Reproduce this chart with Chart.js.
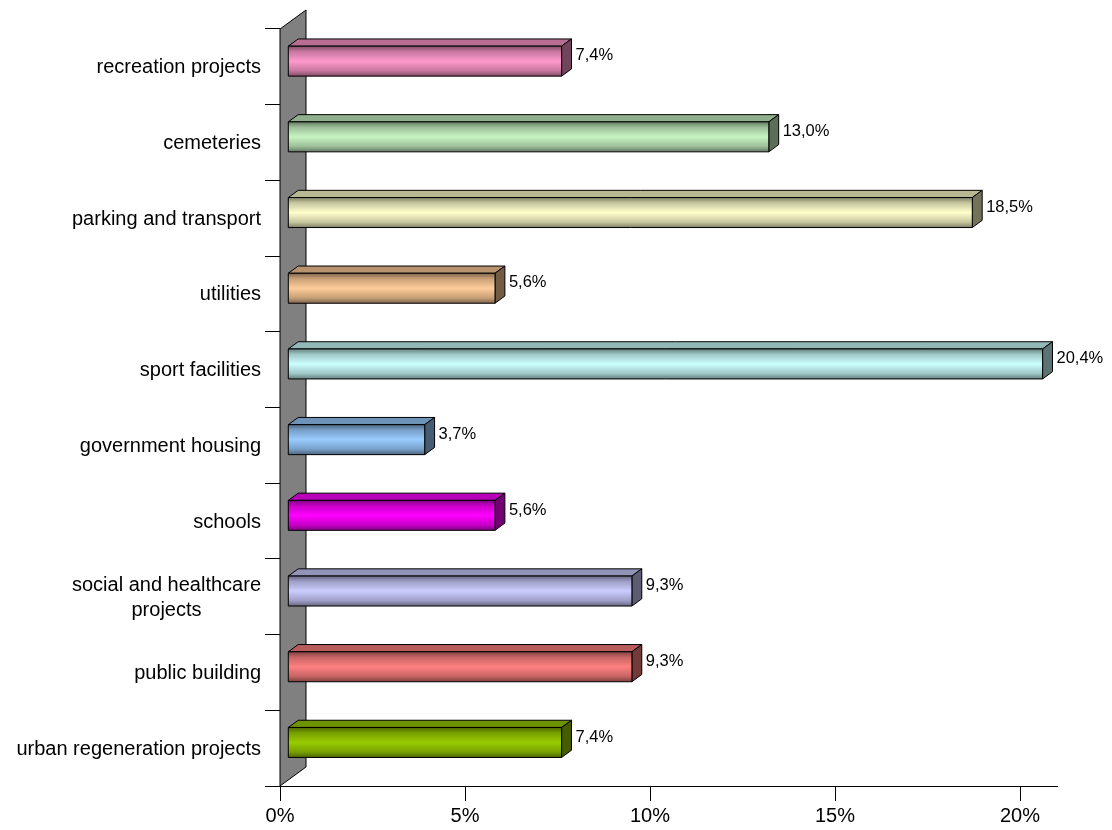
<!DOCTYPE html>
<html>
<head>
<meta charset="utf-8">
<script src="https://cdn.jsdelivr.net/npm/chart.js@4.4.1/dist/chart.umd.min.js"></script>
<style>
    body { margin: 0; background: #fff; }
</style>
</head>
<body>
<canvas id="barChart" width="1112" height="830"></canvas>
<script>
// Share of projects per category (top to bottom)
const categories = [
    'recreation projects',
    'cemeteries',
    'parking and transport',
    'utilities',
    'sport facilities',
    'government housing',
    'schools',
    ['social and healthcare', 'projects'],
    'public building',
    'urban regeneration projects'
];
const shares = [7.4, 13.0, 18.5, 5.6, 20.4, 3.7, 5.6, 9.3, 9.3, 7.4];
const barColors = ['#FF99CC', '#C8F4C4', '#FFFFCC', '#FFCC99', '#CCFFFF', '#99CCFF', '#FF00FF', '#CCCCFF', '#FF8080', '#99CC00'];
const xTicks = [0, 5, 10, 15, 20];

const FONT = "'Liberation Sans', Arial, sans-serif";
// depth of the back wall in pixels, bars sit between FRONT and BACK
const WALL = { dx: 26, dy: -19 };
const FRONT = 0.3, BACK = 0.68;

function shade(hex, f) {
    const n = parseInt(hex.slice(1), 16);
    const r = Math.round(((n >> 16) & 255) * f);
    const g = Math.round(((n >> 8) & 255) * f);
    const b = Math.round((n & 255) * f);
    return 'rgb(' + r + ',' + g + ',' + b + ')';
}

function poly(ctx, pts, fill) {
    ctx.beginPath();
    ctx.moveTo(pts[0][0], pts[0][1]);
    for (let i = 1; i < pts.length; i++) ctx.lineTo(pts[i][0], pts[i][1]);
    ctx.closePath();
    ctx.fillStyle = fill;
    ctx.fill();
    ctx.stroke();
}

const bars3d = {
    id: 'bars3d',
    beforeDatasetsDraw(chart) {
        // grey side wall
        const { ctx, chartArea: a } = chart;
        ctx.save();
        ctx.strokeStyle = '#000';
        ctx.lineWidth = 1;
        poly(ctx, [
            [a.left, a.bottom],
            [a.left, a.top],
            [a.left + WALL.dx, a.top + WALL.dy],
            [a.left + WALL.dx, a.bottom + WALL.dy]
        ], '#808080');
        ctx.restore();
    },
    beforeDatasetDraw(chart, args) {
        const ctx = chart.ctx;
        const fdx = WALL.dx * FRONT, fdy = WALL.dy * FRONT;
        const bdx = WALL.dx * (BACK - FRONT), bdy = WALL.dy * (BACK - FRONT);
        ctx.save();
        ctx.strokeStyle = '#000';
        ctx.lineWidth = 1;
        args.meta.data.forEach((el, i) => {
            const base = barColors[i];
            const x0 = el.base + fdx, x1 = el.x + fdx;
            const y0 = el.y - el.height / 2 + fdy, y1 = y0 + el.height;

            // top face
            poly(ctx, [[x0, y0], [x0 + bdx, y0 + bdy], [x1 + bdx, y0 + bdy], [x1, y0]], shade(base, 0.72));
            // end face
            poly(ctx, [[x1, y0], [x1 + bdx, y0 + bdy], [x1 + bdx, y1 + bdy], [x1, y1]], shade(base, 0.45));
            // front face with rounded shading
            const g = ctx.createLinearGradient(0, y0, 0, y1);
            g.addColorStop(0, shade(base, 0.5));
            g.addColorStop(0.18, shade(base, 0.78));
            g.addColorStop(0.5, base);
            g.addColorStop(0.82, shade(base, 0.78));
            g.addColorStop(1, shade(base, 0.5));
            poly(ctx, [[x0, y0], [x1, y0], [x1, y1], [x0, y1]], g);
        });
        ctx.restore();
        return false;
    },
    afterDatasetsDraw(chart) {
        // value labels next to the bar ends
        const ctx = chart.ctx;
        const meta = chart.getDatasetMeta(0);
        ctx.save();
        ctx.font = '16.5px ' + FONT;
        ctx.fillStyle = '#000';
        ctx.textAlign = 'left';
        ctx.textBaseline = 'middle';
        meta.data.forEach((el, i) => {
            const txt = shares[i].toFixed(1).replace('.', ',') + '%';
            ctx.fillText(txt, el.x + WALL.dx * BACK + 4, el.y - 11);
        });
        ctx.restore();
    },
    afterDraw(chart) {
        // category labels, multi-line ones centred on themselves
        const ctx = chart.ctx;
        const yScale = chart.scales.y;
        const right = 261, lh = 25;
        ctx.save();
        ctx.font = '20px ' + FONT;
        ctx.fillStyle = '#000';
        ctx.textAlign = 'center';
        ctx.textBaseline = 'middle';
        categories.forEach((lab, i) => {
            const lines = Array.isArray(lab) ? lab : [lab];
            const w = Math.max(...lines.map(l => ctx.measureText(l).width));
            const cy = yScale.getPixelForValue(i) + 1;
            lines.forEach((l, k) => {
                ctx.fillText(l, right - w / 2, cy - (lines.length - 1) * lh / 2 + k * lh);
            });
        });
        ctx.restore();
    }
};

new Chart(document.getElementById('barChart').getContext('2d'), {
    type: 'bar',
    data: {
        labels: categories,
        datasets: [{
            data: shares,
            backgroundColor: barColors,
            barPercentage: 0.396,
            categoryPercentage: 1
        }]
    },
    options: {
        indexAxis: 'y',
        responsive: false,
        animation: false,
        layout: { padding: { top: 29, right: 55, left: 0, bottom: 0 } },
        plugins: {
            legend: { display: false },
            tooltip: { enabled: false }
        },
        scales: {
            x: {
                type: 'linear',
                position: 'bottom',
                min: 0,
                max: 21,
                afterBuildTicks(s) { s.ticks = xTicks.map(v => ({ value: v })); },
                afterFit(s) { s.height = 44; },
                ticks: {
                    callback: v => v + '%',
                    color: '#000',
                    font: { family: FONT, size: 20 },
                    padding: 3,
                    maxRotation: 0
                },
                grid: { drawOnChartArea: false, tickLength: 15, color: '#000' },
                border: { color: '#000' }
            },
            y: {
                type: 'category',
                afterFit(s) { s.width = 280; },
                ticks: { display: false },
                grid: { drawOnChartArea: false, tickLength: 15, color: '#000', offset: true },
                border: { display: false }
            }
        }
    },
    plugins: [bars3d]
});
</script>
</body>
</html>
